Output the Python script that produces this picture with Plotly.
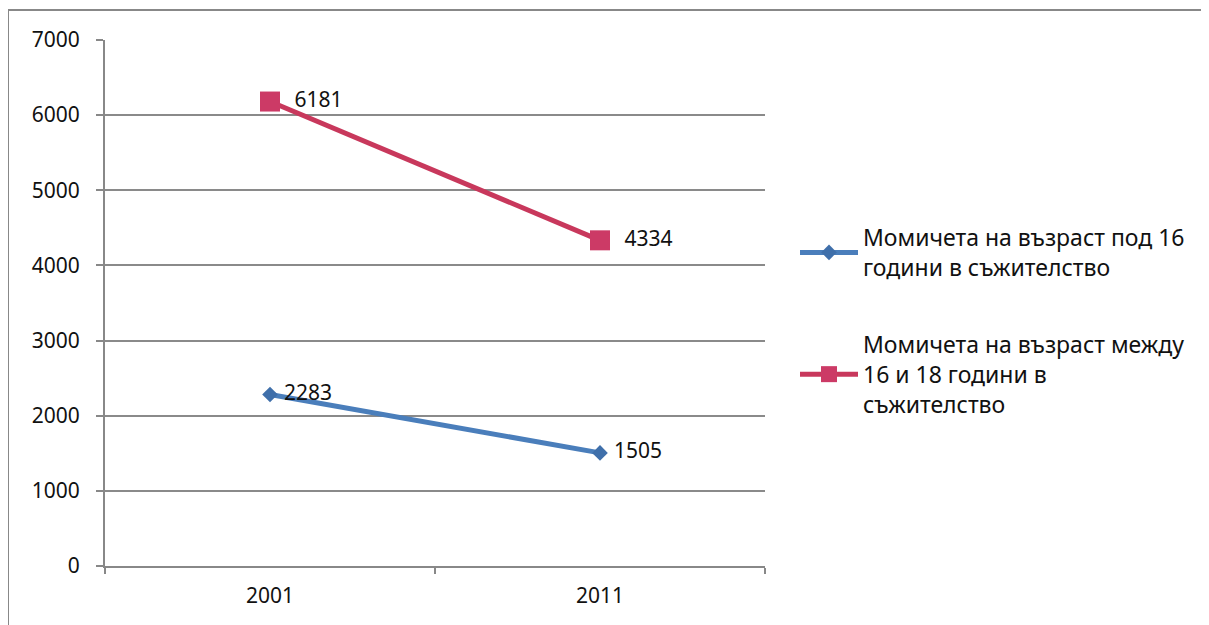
import plotly.graph_objects as go

years = ["2001", "2011"]
under16 = [2283, 1505]
between16_18 = [6181, 4334]
name_under16 = "Момичета на възраст под 16<br>години в съжителство"
name_between = "Момичета на възраст между<br>16 и 18 години в<br>съжителство"
y_ticks = [0, 1000, 2000, 3000, 4000, 5000, 6000, 7000]

OFF = 8  # page body margin
W, H = 1209, 625
L, R, T, B = 105 - OFF, 1209 - (765 - OFF), 40 - OFF, 625 - (566 - OFF)
pw, ph = W - L - R, H - T - B

def px_x(x):
    return (x - OFF - L) / pw

def px_y(y):
    return (H - B - (y - OFF)) / ph

FONT = "Noto Sans"

fig = go.Figure()
fig.add_trace(go.Scatter(
    x=years, y=under16, name=name_under16, legendgroup="a",
    mode="lines+markers+text", text=[" " + str(v) for v in under16],
    textposition="middle right", textfont=dict(size=21, color="#111111", family=FONT),
    line=dict(color="#4A7EBB", width=5),
    marker=dict(symbol="diamond", size=12, color="#3F6FAA"),
    cliponaxis=False,
))
fig.add_trace(go.Scatter(
    x=years, y=between16_18, name=name_between, legendgroup="b",
    mode="lines+markers+text", text=["  " + str(v) for v in between16_18],
    textposition="middle right", textfont=dict(size=21, color="#111111", family=FONT),
    line=dict(color="#C8385C", width=5),
    marker=dict(symbol="square", size=20, color="#CC3A66"),
    cliponaxis=False,
))

border = dict(color="#888888", width=2)
fig.update_layout(
    width=W, height=H,
    margin=dict(l=L, r=R, t=T, b=B),
    paper_bgcolor="white", plot_bgcolor="white",
    font=dict(family=FONT, size=20, color="#111111"),
    showlegend=True,
    legend=dict(
        x=px_x(795), y=px_y(216), xanchor="left", yanchor="top",
        font=dict(size=23, family=FONT, color="#111111"),
        tracegroupgap=44, itemwidth=58, bgcolor="rgba(0,0,0,0)",
    ),
    xaxis=dict(
        type="category", range=[-0.5, 1.5],
        showline=True, linecolor="#888888", linewidth=2,
        ticks="outside", tickson="boundaries", ticklen=6, tickcolor="#888888", tickwidth=2,
        showgrid=False, tickfont=dict(size=21, family=FONT),
        ticklabelstandoff=10,
        fixedrange=True,
    ),
    yaxis=dict(
        range=[0, 7000], tickvals=y_ticks,
        showline=True, linecolor="#888888", linewidth=2,
        ticks="outside", ticklen=7, tickcolor="#888888", tickwidth=2,
        showgrid=True, gridcolor="#8a8a8a", gridwidth=1.5,
        zeroline=False, tickfont=dict(size=21, family=FONT),
        ticklabelstandoff=12,
        fixedrange=True,
    ),
    shapes=[
        dict(type="line", xref="paper", yref="paper",
             x0=px_x(8), x1=px_x(W + 300), y0=px_y(10), y1=px_y(10), line=border, layer="below"),
        dict(type="line", xref="paper", yref="paper",
             x0=px_x(8), x1=px_x(8), y0=px_y(10), y1=px_y(H + 300), line=border, layer="below"),
    ],
)

fig.write_html("out.html")
